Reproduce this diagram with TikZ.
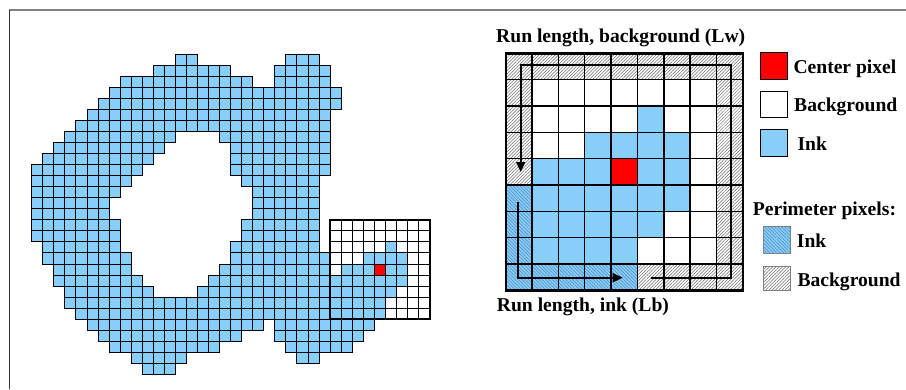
\documentclass[tikz,border=0pt]{standalone}
\usepackage{fontspec}
\setmainfont{Liberation Serif}
\usetikzlibrary{arrows.meta, patterns.meta}

\definecolor{inkblue}{RGB}{135,206,250}
\definecolor{hatchblue}{RGB}{60,115,175}
\definecolor{red}{RGB}{255,0,0}

\begin{document}
\begin{tikzpicture}[x=1pt, y=-1pt, >={Triangle[length=10pt, width=9pt]},
    cell/.style={draw=black, line width=0.9pt},
    inkcell/.style={cell, fill=inkblue},
    bgcell/.style={cell, fill=white},
    bigcell/.style={draw=black, line width=1.4pt},
    bgperim/.style={bigcell, pattern={Lines[angle=45, distance=2.3pt, line width=0.5pt]}, pattern color=gray!85!black},
    inkperim/.style={bigcell, preaction={fill=inkblue}, pattern={Lines[angle=-45, distance=2.4pt, line width=0.35pt]}, pattern color=hatchblue},
    keybox/.style={draw=black, line width=0.8pt, minimum size=26.7pt, inner sep=0pt},
    lbltext/.style={font=\bfseries\fontsize{19.6}{22}\selectfont, inner sep=0pt, anchor=base west}]
    \useasboundingbox (0,0) rectangle (906,389);

    % --- Frame ---
    \draw[gray, line width=1.2pt] (9,10) -- (906,10);
    \draw[black!80, line width=1.2pt] (9.5,10) -- (9.5,389);

    % Blob grid
    \def\bx{31.7} % left edge
    \def\by{54}   % top edge
    \def\bs{11.05} % cell size

    % --- Window (white cells first) ---
    \foreach \r in {15,...,23} {
        \foreach \c in {27,...,35} {
            \draw[bgcell] ({\bx+\c*\bs},{\by+\r*\bs}) rectangle ++(\bs,\bs);
        }
    }

    % --- Ink cells, row / first col / last col ---
    \foreach \r/\a/\b in {0/13/14, 0/23/25, 1/11/17, 1/22/26, 2/8/19, 2/22/26,
        3/7/27, 4/6/27, 5/5/26, 6/4/26, 7/3/12, 7/17/26, 8/2/11, 8/18/26,
        9/1/10, 9/18/26, 10/0/9, 10/18/26, 11/0/8, 11/19/25, 12/0/7, 12/20/25,
        13/0/6, 13/20/25, 14/0/6, 14/20/25, 15/0/7, 15/19/25, 16/0/7, 16/19/25,
        17/1/7, 17/18/25, 17/32/32, 18/1/8, 18/18/26, 18/30/33, 19/2/8, 19/17/26,
        19/28/33, 20/2/9, 20/16/33, 21/3/10, 21/15/32, 22/3/31, 23/4/31,
        24/5/20, 24/22/30, 25/6/18, 25/22/29, 26/7/16, 26/23/28, 27/9/13,
        27/24/25, 28/10/12} {
        \foreach \c in {\a,...,\b} {
            \draw[inkcell] ({\bx+\c*\bs},{\by+\r*\bs}) rectangle ++(\bs,\bs);
        }
    }
    \draw[cell, fill=red] ({\bx+31*\bs},{\by+19*\bs}) rectangle ++(\bs,\bs);
    \draw[line width=2pt] ({\bx+27*\bs},{\by+15*\bs}) rectangle ++({9*\bs},{9*\bs});

    % --- Enlarged window ---
    \def\gx{505.7}
    \def\gy{53.3}
    \def\gs{26.35}
    \foreach \r in {1,...,7} {
        \foreach \c in {1,...,7} {
            \draw[bigcell, fill=white] ({\gx+\c*\gs},{\gy+\r*\gs}) rectangle ++(\gs,\gs);
        }
    }
    \foreach \r/\a/\b in {2/5/5, 3/3/6, 4/1/6, 5/1/6, 6/1/5, 7/1/4} {
        \foreach \c in {\a,...,\b} {
            \draw[bigcell, fill=inkblue] ({\gx+\c*\gs},{\gy+\r*\gs}) rectangle ++(\gs,\gs);
        }
    }
    \draw[bigcell, fill=red] ({\gx+4*\gs},{\gy+4*\gs}) rectangle ++(\gs,\gs);

    % Perimeter pixels
    \foreach \c/\r in {0/0, 1/0, 2/0, 3/0, 4/0, 5/0, 6/0, 7/0, 8/0, 8/1, 8/2, 8/3,
        8/4, 8/5, 8/6, 8/7, 8/8, 0/1, 0/2, 0/3, 0/4, 5/8, 6/8, 7/8} {
        \draw[bgperim] ({\gx+\c*\gs},{\gy+\r*\gs}) rectangle ++(\gs,\gs);
    }
    \foreach \c/\r in {0/5, 0/6, 0/7, 0/8, 1/8, 2/8, 3/8, 4/8} {
        \draw[inkperim] ({\gx+\c*\gs},{\gy+\r*\gs}) rectangle ++(\gs,\gs);
    }
    \draw[line width=2.4pt] (\gx,\gy) rectangle ++({9*\gs},{9*\gs});

    % --- Run length arrows ---
    \coordinate (lwStart) at (651,277.7);
    \coordinate (lwA) at (730.7,277.7);
    \coordinate (lwB) at (730.7,65);
    \coordinate (lwC) at (520.7,65);
    \coordinate (lwEnd) at (520.7,172);
    \draw[->, line width=1.7pt] (lwStart) -- (lwA) -- (lwB) -- (lwC) -- (lwEnd);

    \coordinate (lbStart) at (518.3,201.7);
    \coordinate (lbA) at (518.3,277.7);
    \coordinate (lbEnd) at (622.7,277.7);
    \draw[->, line width=1.7pt] (lbStart) -- (lbA) -- (lbEnd);

    \node[lbltext] (lwTitle) at (496,42) {Run length, background (Lw)};
    \node[lbltext] (lbTitle) at (496.7,311) {Run length, ink (Lb)};

    % --- Legend ---
    \node[keybox, fill=red] (keyCenter) at (774,65.7) {};
    \node[keybox, fill=white] (keyBg) at (774,104.3) {};
    \node[keybox, fill=inkblue] (keyInk) at (774,143) {};
    \node[lbltext] (txtCenter) at (793.3,73) {Center pixel};
    \node[lbltext] (txtBg) at (794,111.5) {Background};
    \node[lbltext] (txtInk) at (797.3,150) {Ink};

    \node[lbltext] (txtPerim) at (752.7,215.5) {Perimeter pixels:};
    \draw[inkperim, draw=gray, line width=0.8pt] (763.3,226.7) rectangle (790.7,253.3);
    \draw[bgperim, draw=gray, line width=0.8pt] (763.3,266) rectangle (790.7,290.7);
    \node[lbltext] (txtPerimInk) at (796.7,247.5) {Ink};
    \node[lbltext] (txtPerimBg) at (797.3,286.5) {Background};
\end{tikzpicture}
\end{document}
